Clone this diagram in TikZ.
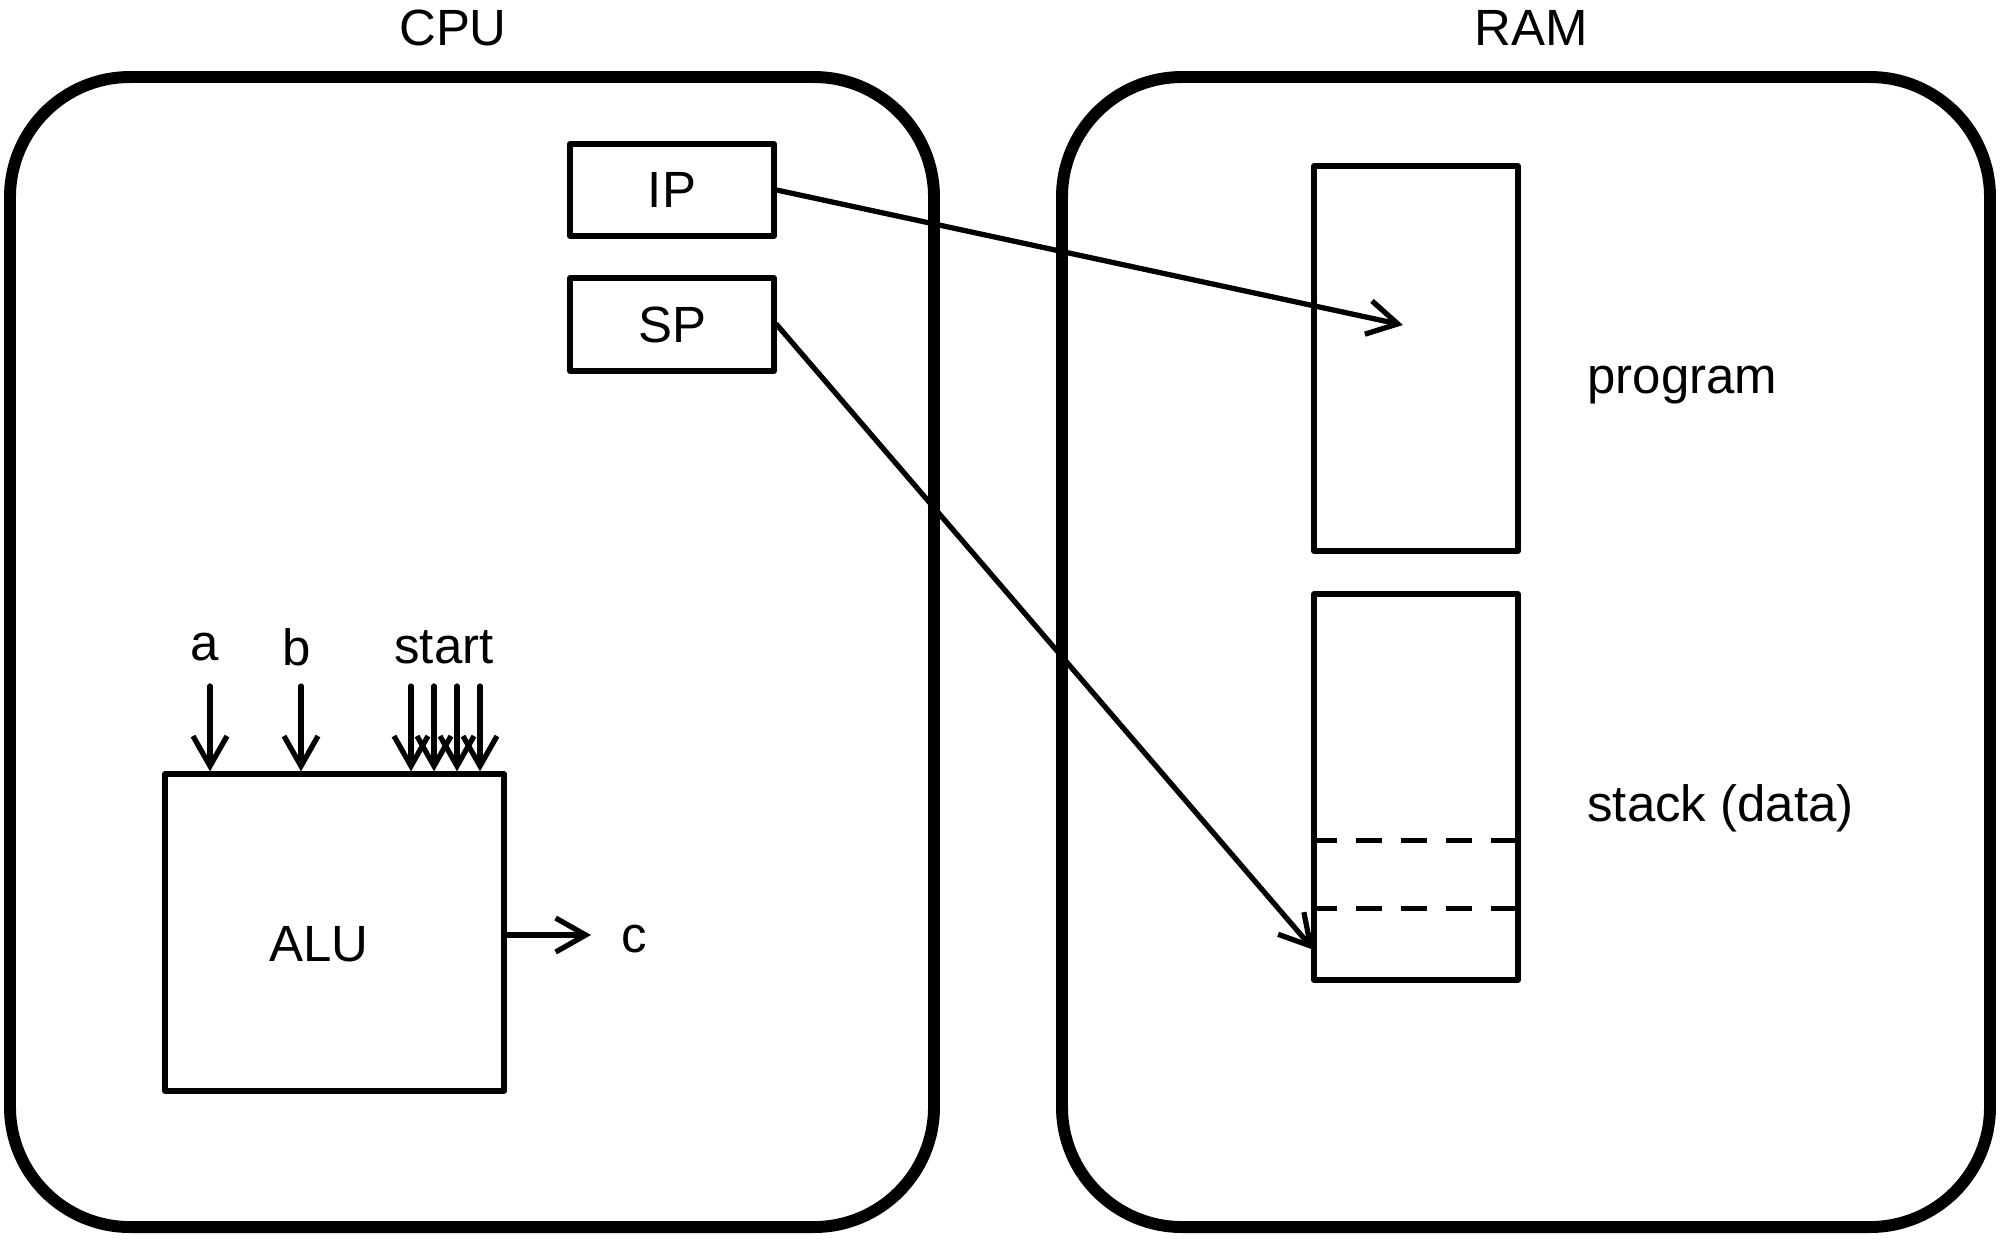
\documentclass[tikz,border=0pt]{standalone}
\usepackage{fontspec}
\setmainfont{Liberation Sans}
\usetikzlibrary{arrows.meta,calc}
\begin{document}
\begin{tikzpicture}[x=1cm,y=-1cm,>={Straight Barb[length=3mm,width=3.4mm]}, font=\fontsize{14.5}{17}\selectfont, line join=round, line cap=round,
	unit/.style={draw,line width=3.4pt,rounded corners=1.2cm,inner sep=0pt},
	reg/.style={draw,line width=1.5pt,inner sep=0pt,minimum width=2.04cm},
	wire/.style={->,line width=1.5pt}]
				\useasboundingbox (0,0) rectangle (20,12.4);
				% Blöcke
				\node[unit,minimum width=9.24cm,minimum height=11.5cm] (cpu) at (4.72,6.52) {};
				\node[unit,minimum width=9.28cm,minimum height=11.5cm] (ram) at (15.26,6.52) {};
				\node (cpulbl) at (4.53,0.28) {CPU};
				\node (ramlbl) at (15.31,0.28) {RAM};
				\node[reg,minimum height=0.92cm] (ip) at (6.72,1.90) {IP};
				\node[reg,minimum height=0.93cm] (sp) at (6.72,3.245) {SP};
				\node[reg,minimum height=3.85cm] (prog) at (14.16,3.585) {};
				\node[reg,minimum height=3.86cm] (stack) at (14.16,7.87) {};
				\node[anchor=west] (proglbl) at (15.75,3.85) {program};
				\node[anchor=west] (stacklbl) at (15.75,8.08) {stack (data)};
				\foreach \y in {2.49,3.17}
					\draw[line width=1.5pt,line cap=butt,dash pattern=on 2.6mm off 1.9mm] ($(stack.north west)+(0,\y)$)--($(stack.north east)+(0,\y)$);
				% ALU
				\node[reg,minimum width=3.39cm,minimum height=3.17cm] (alu) at (3.345,9.325) {};
				\node (alulbl) at (3.19,9.44) {ALU};
				\node (albl) at (2.05,6.47) {a};
				\node (blbl) at (2.97,6.47) {b};
				\node (startlbl) at (4.44,6.47) {start};
				\foreach \x/\n in {2.10/a,3.01/b,4.11/s1,4.34/s2,4.57/s3,4.80/s4}
					\draw[wire] (\x,6.86)--(alu.north -| \x,0);
				\coordinate (cout) at (5.91,9.35);
				\node (clbl) at (6.34,9.39) {c};
				\draw[wire] (alu.east |- cout)--(cout);
				% Zeiger
				\coordinate (iptip) at (14.03,3.25);
				\coordinate (sptip) at (13.14,9.50);
				\draw[wire] (ip.east)--(iptip);
				\draw[wire] (sp.east)--(sptip);
				\end{tikzpicture}
\end{document}
